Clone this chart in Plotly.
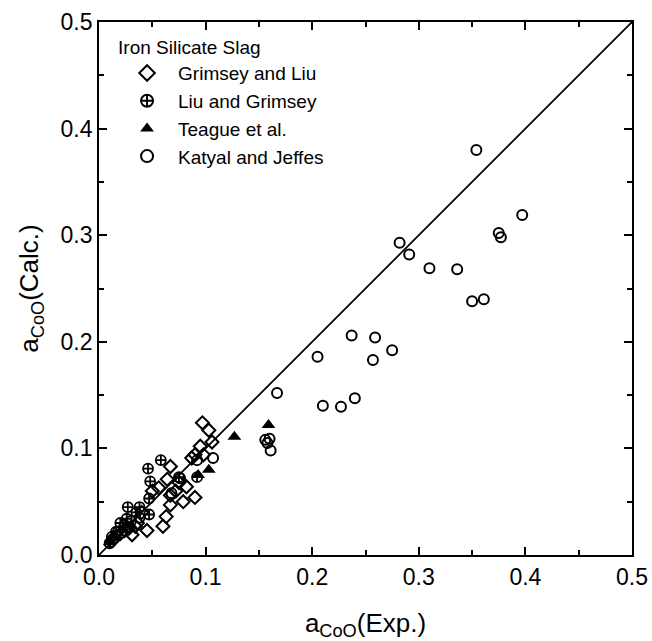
import plotly.graph_objects as go

# Grimsey and Liu (open diamonds)
gl_x = [0.097, 0.103, 0.106, 0.095, 0.098, 0.090, 0.067, 0.064, 0.056, 0.067, 0.082, 0.090, 0.079, 0.067,
        0.063, 0.060, 0.045, 0.031, 0.034, 0.036, 0.024, 0.020, 0.028, 0.015, 0.050, 0.075, 0.072, 0.087,
        0.040, 0.012]
gl_y = [0.124, 0.117, 0.106, 0.102, 0.094, 0.094, 0.083, 0.071, 0.063, 0.056, 0.064, 0.054, 0.050, 0.047,
        0.036, 0.027, 0.023, 0.019, 0.027, 0.030, 0.023, 0.020, 0.025, 0.016, 0.060, 0.068, 0.060, 0.091,
        0.040, 0.013]

# Liu and Grimsey (circle with cross)
lg_x = [0.058, 0.046, 0.048, 0.047, 0.027, 0.038, 0.047, 0.075, 0.092, 0.012, 0.010, 0.020, 0.026, 0.016, 0.035]
lg_y = [0.089, 0.081, 0.069, 0.053, 0.045, 0.045, 0.038, 0.073, 0.073, 0.017, 0.011, 0.030, 0.034, 0.022, 0.040]

# Teague et al. (filled triangles)
tg_x = [0.127, 0.159, 0.103, 0.093, 0.022, 0.030, 0.015, 0.010]
tg_y = [0.111, 0.122, 0.080, 0.075, 0.024, 0.028, 0.018, 0.012]

# Katyal and Jeffes (open circles)
kj_x = [0.354, 0.397, 0.375, 0.377, 0.282, 0.291, 0.310, 0.336, 0.350, 0.361, 0.237, 0.259, 0.275, 0.205,
        0.257, 0.167, 0.210, 0.227, 0.240, 0.156, 0.160, 0.158, 0.161, 0.107, 0.092, 0.076, 0.068, 0.038,
        0.030, 0.018, 0.013, 0.024]
kj_y = [0.380, 0.319, 0.302, 0.298, 0.293, 0.282, 0.269, 0.268, 0.238, 0.240, 0.206, 0.204, 0.192, 0.186,
        0.183, 0.152, 0.140, 0.139, 0.147, 0.108, 0.109, 0.105, 0.098, 0.091, 0.089, 0.072, 0.058, 0.035,
        0.032, 0.022, 0.015, 0.028]

# y = x reference line
ref_line = [0.0, 0.5]

FONT = "Liberation Sans, Arial, sans-serif"

fig = go.Figure()
fig.add_trace(go.Scatter(x=ref_line, y=ref_line, mode="lines", line=dict(color="black", width=1.8),
                         showlegend=False, hoverinfo="skip"))
fig.add_trace(go.Scatter(x=gl_x, y=gl_y, mode="markers", name="Grimsey and Liu",
                         marker=dict(symbol="diamond-open", size=10, color="black", line=dict(width=2))))
fig.add_trace(go.Scatter(x=lg_x, y=lg_y, mode="markers", name="Liu and Grimsey",
                         marker=dict(symbol="circle-cross-open", size=10, color="black", line=dict(width=1.8))))
fig.add_trace(go.Scatter(x=tg_x, y=tg_y, mode="markers", name="Teague et al.",
                         marker=dict(symbol="triangle-up", size=12, color="black")))
fig.add_trace(go.Scatter(x=kj_x, y=kj_y, mode="markers", name="Katyal and Jeffes",
                         marker=dict(symbol="circle-open", size=10, color="black", line=dict(width=2))))

axis_common = dict(
    range=[0, 0.5], dtick=0.1, tick0=0, tickformat=".1f",
    ticks="inside", ticklen=8, tickwidth=1.6, tickcolor="black",
    minor=dict(dtick=0.05, ticks="inside", ticklen=5, tickwidth=1.6, tickcolor="black"),
    showline=True, linecolor="black", linewidth=1.8, mirror="ticks",
    showgrid=False, zeroline=False, automargin=False,
    tickfont=dict(family=FONT, size=23, color="black"),
)

fig.update_layout(
    width=652, height=641,
    margin=dict(l=99, r=20, t=22, b=86),
    paper_bgcolor="white", plot_bgcolor="white",
    font=dict(family=FONT, color="black"),
    xaxis=dict(**axis_common,
               title=dict(text="a<sub>CoO</sub>(Exp.)", font=dict(family=FONT, size=26), standoff=28)),
    yaxis=dict(**axis_common,
               title=dict(text="a<sub>CoO</sub>(Calc.)", font=dict(family=FONT, size=26), standoff=14)),
    legend=dict(
        title=dict(text="Iron Silicate Slag", font=dict(family=FONT, size=19)),
        font=dict(family=FONT, size=19),
        x=0.032, y=0.986, xanchor="left", yanchor="top",
        bgcolor="rgba(255,255,255,0)", borderwidth=0,
        tracegroupgap=0, itemsizing="constant", itemwidth=52,
    ),
    showlegend=True,
)

fig.write_html("out.html")
